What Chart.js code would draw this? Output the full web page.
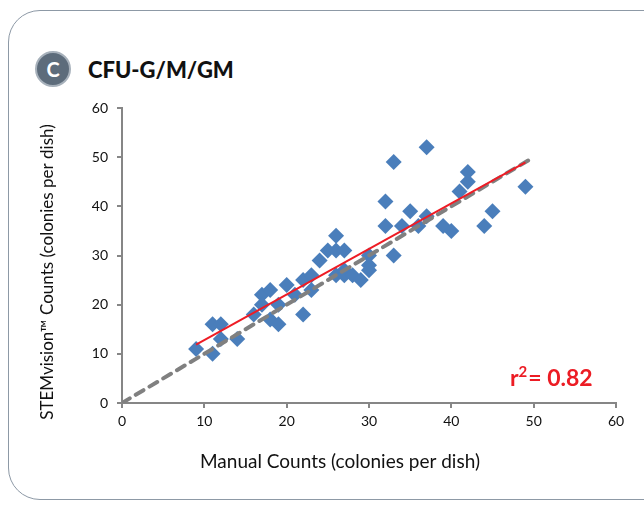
<!DOCTYPE html>
<html>
<head>
<meta charset="utf-8">
<script src="https://cdn.jsdelivr.net/npm/chart.js@4.4.1/dist/chart.umd.min.js"></script>
<style>
  html, body { margin: 0; padding: 0; background: #ffffff; }
  #wrap { position: relative; width: 644px; height: 506px; overflow: hidden; background: #fff; }
  #card { position: absolute; left: 8px; top: 10px; width: 700px; height: 490px;
          border: 1px solid #8d99a6; border-radius: 32px; box-sizing: border-box; }
  #badge { position: absolute; left: 35px; top: 51px; width: 36px; height: 36px; border-radius: 50%;
           background: #5d6c7b; box-sizing: border-box; border: 2px solid #a7b1bb;
           color: #fff; font: bold 20px Lato, sans-serif; text-align: center; line-height: 32px; }
  #title { position: absolute; left: 88px; top: 56px; font: 900 22px Lato, sans-serif; color: #111; }
  #c { position: absolute; left: 0; top: 0; }
</style>
</head>
<body>
<div id="wrap">
  <div id="card"></div>
  <div id="badge">C</div>
  <div id="title">CFU-G/M/GM</div>
  <canvas id="c" width="644" height="506"></canvas>
</div>
<script>
// Manual vs STEMvision colony counts, one entry per dish
const manualCounts = [9, 11, 11, 12, 12, 14, 16, 17, 18, 17, 18, 19, 19, 20, 21, 22, 22, 23, 23, 24,
  25, 26, 26, 27, 26, 27, 27, 28, 29, 30, 30, 30, 32, 32, 33, 33, 34, 35, 36, 37, 37, 39, 40, 41, 42, 42, 44, 45, 49];
const stemvisionCounts = [11, 10, 16, 16, 13, 13, 18, 22, 23, 20, 17, 16, 20, 24, 22, 18, 25, 26, 23, 29,
  31, 34, 31, 31, 26, 27, 26, 26, 25, 30, 28, 27, 41, 36, 49, 30, 36, 39, 36, 52, 38, 36, 35, 43, 47, 45, 36, 39, 44];
const identityLine = [0, 50];          // y = x reference from 0 to 50
const axisTicks = [0, 10, 20, 30, 40, 50, 60];
const rSquaredLabel = "0.82";
const xTitle = "Manual Counts (colonies per dish)";
const yTitle = "STEMvision\u2122 Counts (colonies per dish)";

// least-squares fit for the trend line
function linearFit(xs, ys) {
  const n = xs.length;
  const mx = xs.reduce((a, b) => a + b, 0) / n;
  const my = ys.reduce((a, b) => a + b, 0) / n;
  let sxy = 0, sxx = 0;
  for (let i = 0; i < n; i++) { sxy += (xs[i] - mx) * (ys[i] - my); sxx += (xs[i] - mx) ** 2; }
  const slope = sxy / sxx;
  return { slope, intercept: my - slope * mx };
}
const fit = linearFit(manualCounts, stemvisionCounts);
const xMin = Math.min(...manualCounts), xMax = Math.max(...manualCounts);

const scatterPoints = manualCounts.map((x, i) => ({ x, y: stemvisionCounts[i] }));
const trendPoints = [xMin, xMax].map(x => ({ x, y: fit.intercept + fit.slope * x }));
const identityPoints = identityLine.map(v => ({ x: v, y: v }));

const FONT = 'Lato, "Open Sans", sans-serif';
const AXIS_GRAY = '#868686';

const annotations = {
  id: 'annotations',
  afterDraw(chart) {
    const ctx = chart.ctx;
    ctx.save();
    ctx.fillStyle = '#111';
    ctx.textAlign = 'center';
    ctx.textBaseline = 'middle';
    ctx.font = '19px ' + FONT;
    ctx.fillText(xTitle, 340, 462);
    ctx.font = '17px ' + FONT;
    ctx.translate(48, 272);
    ctx.rotate(-Math.PI / 2);
    ctx.fillText(yTitle, 0, 0);
    ctx.restore();

    // r² label
    ctx.save();
    ctx.fillStyle = '#ec1c24';
    ctx.textBaseline = 'alphabetic';
    ctx.textAlign = 'left';
    let x = 510;
    const base = 386;
    ctx.font = 'bold 23px ' + FONT;
    ctx.fillText('r', x, base);
    x += ctx.measureText('r').width;
    ctx.font = 'bold 15px ' + FONT;
    ctx.fillText('2', x, base - 9);
    x += ctx.measureText('2').width + 1;
    ctx.font = 'bold 23px ' + FONT;
    ctx.fillText('= ' + rSquaredLabel, x, base);
    ctx.restore();
  }
};

new Chart(document.getElementById('c'), {
  type: 'scatter',
  data: {
    datasets: [
      {
        type: 'line',
        data: trendPoints,
        borderColor: '#ee1c25',
        borderWidth: 2,
        pointRadius: 0,
        fill: false,
        order: 0
      },
      {
        type: 'line',
        data: identityPoints,
        borderColor: '#808080',
        borderWidth: 4,
        borderDash: [9, 7],
        borderCapStyle: 'round',
        pointRadius: 0,
        fill: false,
        order: 1
      },
      {
        data: scatterPoints,
        pointStyle: 'rectRot',
        pointRadius: 8,
        backgroundColor: '#4a7ebb',
        borderColor: '#4a7ebb',
        borderWidth: 0,
        order: 2
      }
    ]
  },
  options: {
    responsive: false,
    animation: false,
    events: [],
    layout: { padding: { left: 82, right: 28, top: 108, bottom: 73 } },
    plugins: { legend: { display: false }, tooltip: { enabled: false } },
    scales: {
      x: {
        type: 'linear', min: 0, max: 60,
        afterBuildTicks: s => { s.ticks = axisTicks.map(v => ({ value: v })); },
        afterFit: s => { s.height = 30; },
        grid: { drawOnChartArea: false, drawTicks: true, tickLength: 5, color: AXIS_GRAY, lineWidth: 2 },
        border: { display: true, color: AXIS_GRAY, width: 2 },
        ticks: { color: '#111', font: { family: FONT, size: 14 }, padding: 5 }
      },
      y: {
        type: 'linear', min: 0, max: 60,
        afterBuildTicks: s => { s.ticks = axisTicks.map(v => ({ value: v })); },
        afterFit: s => { s.width = 40; },
        grid: { drawOnChartArea: false, drawTicks: true, tickLength: 5, color: AXIS_GRAY, lineWidth: 2 },
        border: { display: true, color: AXIS_GRAY, width: 2 },
        ticks: { color: '#111', font: { family: FONT, size: 14 }, padding: 9 }
      }
    }
  },
  plugins: [annotations]
});
</script>
</body>
</html>
